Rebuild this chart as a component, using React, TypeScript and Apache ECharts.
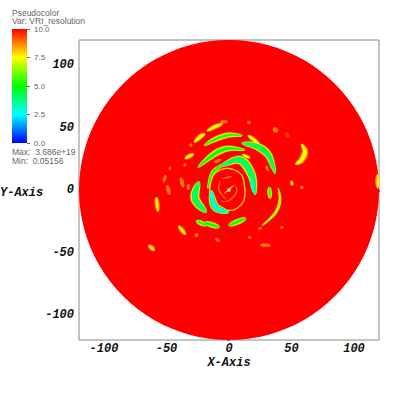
import React, { useEffect, useRef } from "react";
import * as echarts from "echarts";

const domainRadius = [120];
const majorTicks = [-100, -50, 0, 50, 100];
const colorbarTicks = [0, 2.5, 5, 7.5, 10];
const contourLevels = [9.4, 8.75, 7.5, 6.25, 5, 3.75, 2.5, 1.25];
const contourColors = ["#ff4000", "#ff8000", "#ffff00", "#80ff00", "#00ff00", "#00ff80", "#00ffff", "#0080ff"];
const colorbarStops = ["#ff0000", "#ffff00", "#00ff00", "#00ffff", "#0000ff"];

const strokePoints: number[][][] = [
  [[-18, 47], [-11, 50.7], [-5, 53]],
  [[-7, 54.7], [-1, 54.4]],
  [[-28, 38], [-23, 42.7], [-19, 45]],
  [[-20, 35.5], [-11.2, 40.5], [0, 44], [11, 43.5]],
  [[-35.5, 25], [-28, 29]],
  [[10, 37.5], [22, 35], [31.5, 28], [37, 13]],
  [[15, 44], [24.5, 36.5]],
  [[-25, 18], [-16.5, 25.3], [-8.5, 30.7], [0.5, 33.3], [13, 32]],
  [[-7, 19], [8.8, 24], [18.1, 12], [21, -4]],
  [[17, 10], [20.5, -3]],
  [[-24, 7], [-27.2, -6.7], [-18, -18]],
  [[-14.5, 0], [-11.2, -13.3], [0, -18]],
  [[-17, 1], [-12.5, 14.7], [-1, 22]],
  [[12.8, 0], [10.1, 12], [-0.5, 17.3], [-11.2, 13.3], [-15.2, 2.7], [-13.9, -8], [-7.2, -14.7], [3.5, -16], [11.5, -9.3], [12.8, 0]],
  [[-26.5, -24.5], [-18, -28.5]],
  [[-20, -26], [-7.5, -29.8]],
  [[-0.5, -28.5], [14, -22.5]],
  [[39.2, 2], [40.8, -8], [36.8, -18.7], [26, -29]],
  [[32.2, 2.5], [32.9, -7]],
  [[58, 37], [60.8, 30.7], [58, 24], [53, 20.5]],
  [[38.6, 46], [35.8, 50]],
  [[16.6, 52.6], [15.4, 55.4]],
  [[45.5, 46], [48, 42]],
  [[50.8, 3.5], [49.8, 7.5]],
  [[57, 1.5], [59.5, 2.6]],
  [[-58.2, -5.5], [-56.8, -17.5]],
  [[-40.5, -28.5], [-34.5, -36]],
  [[-27, -34.8], [-25, -37.3]],
  [[-10.8, -39], [-7.6, -41]],
  [[-64.5, -44], [-59.5, -48.5]],
  [[25, -44], [33.5, -44.3]],
  [[15, -37.6], [18, -38.2]],
  [[40.6, -30.5], [43.6, -29.5]],
  [[23.3, -31], [26.3, -30.4]],
  [[-50.6, 12], [-52.4, 6]],
  [[-49.5, 4], [-47.5, -4]],
  [[-38.6, 10], [-36.5, 2]],
  [[-32.6, 5], [-32.4, 0]],
  [[-46.6, 18.6], [-48, 16]],
  [[-34.5, 21.3], [-36, 18.8]],
  [[-12, 22.3], [-6, 24.4]],
  [[29.7, 19.5], [31.3, 15]],
  [[-29.6, 37], [-31.2, 35]],
  [[10.5, 28.4], [17, 25.6]],
  [[119, 13], [119, 1]],
  [[-7.2, 7.5], [-8, 0], [-2.5, -7.5]],
  [[4.6, 5], [6.1, -1.3], [0.8, -8], [-6.5, -9.5]],
  [[3, 11], [-5.5, 9]],
  [[-4, -3], [4, 4]],
];
const strokeWidths = [
  4.2, 3, 4.6, 5, 4, 7, 4, 6, 8, 3.4, 8, 7, 3.4, 1.1, 4.4, 5, 5, 2.8, 4, 6,
  4.4, 3.2, 3.2, 3.2, 3, 4.4, 4.4, 3.2, 3.2, 4.4, 3, 2.6, 2.6, 2.6, 3, 3.4, 3.4, 3.2, 2.6, 2.6, 2.6, 2.6, 2.6, 3, 4.4,
  1.1, 1.2, 1.1, 1.4,
];
const strokeMinima = [
  7, 8, 7, 5, 7, 3.5, 7, 4.5, 3, 1.5, 3, 1.5, 4.5, 7, 5, 4.5, 4.5, 5.5, 5, 7,
  8, 8.5, 9, 7.5, 8, 7.5, 7.5, 8, 8.5, 7.5, 8, 8.7, 8.7, 8.7, 8.5, 8.3, 8, 8, 8.7, 8.7, 8, 8, 8.5, 7, 7.5,
  8.2, 8, 8.4, 7.5,
];

const grey = "#666666";
const tickFont = { color: "#111", fontFamily: "Liberation Mono", fontWeight: "bold", fontStyle: "italic", fontSize: 12 } as const;
const legendFont = { fill: "#666", fontFamily: "Liberation Sans", fontSize: 8.5 } as const;

const baseAxis = { min: -120, max: 120, interval: 10, axisLine: { show: false }, splitLine: { show: false }, axisLabel: { show: false }, axisTick: { show: true, length: 2, lineStyle: { color: grey } } };
const majorAxis = {
  min: -120, max: 120, axisLine: { show: false }, splitLine: { show: false },
  axisTick: { show: true, length: 4, customValues: majorTicks, lineStyle: { color: "#222" } },
};

// Catmull-Rom through the screen points, so a band can be outlined as a lens.
function centreline(pts: number[][]) {
  const out: number[][] = [];
  const n = pts.length;
  const steps = 10;
  for (let i = 0; i < n - 1; i++) {
    const p0 = pts[Math.max(i - 1, 0)], p1 = pts[i], p2 = pts[i + 1], p3 = pts[Math.min(i + 2, n - 1)];
    for (let k = 0; k < steps; k++) {
      const t = k / steps, t2 = t * t, t3 = t2 * t;
      out.push([0, 1].map((d) => 0.5 * (2 * p1[d] + (p2[d] - p0[d]) * t + (2 * p0[d] - 5 * p1[d] + 4 * p2[d] - p3[d]) * t2 + (3 * p1[d] - p0[d] - 3 * p2[d] + p3[d]) * t3)));
    }
  }
  out.push(pts[n - 1]);
  return out;
}

function lens(line: number[][], halfWidth: number) {
  const left: number[][] = [];
  const right: number[][] = [];
  const last = line.length - 1;
  line.forEach((p, i) => {
    const a = line[Math.max(i - 1, 0)], b = line[Math.min(i + 1, last)];
    const dx = b[0] - a[0], dy = b[1] - a[1];
    const len = Math.hypot(dx, dy) || 1;
    const h = halfWidth * Math.pow(Math.sin((Math.PI * i) / last), 0.6);
    left.push([p[0] - (dy / len) * h, p[1] + (dx / len) * h]);
    right.push([p[0] + (dy / len) * h, p[1] - (dx / len) * h]);
  });
  return left.concat(right.reverse());
}

function renderLevel(params: any, api: any) {
  const li = params.dataIndex;
  const level = contourLevels[li];
  const unit = api.size([1, 0])[0];
  const children: any[] = [];
  strokePoints.forEach((pts, i) => {
    const lo = strokeMinima[i];
    if (lo > level) return;
    const width = strokeWidths[i] * Math.sqrt((level - lo + 0.4) / (9.4 - lo + 0.4)) * unit;
    const a = pts[0], z = pts[pts.length - 1];
    const closed = a[0] === z[0] && a[1] === z[1];
    if (closed) {
      children.push({
        type: "polyline",
        shape: { points: centreline(pts.map((p) => api.coord(p))) },
        style: { fill: "none", stroke: contourColors[li], lineWidth: width },
      });
    } else {
      children.push({
        type: "polygon",
        shape: { points: lens(centreline(pts.map((p) => api.coord(p))), width / 2) },
        style: { fill: contourColors[li] },
      });
    }
  });
  return { type: "group", children };
}

export default function App() {
  const ref = useRef<HTMLDivElement>(null);
  useEffect(() => {
    const chart = echarts.init(ref.current!, undefined, { renderer: "svg" });
    chart.setOption({
      animation: false,
      backgroundColor: "#fff",
      grid: [
        { left: 79, top: 40, width: 300, height: 300, show: true, borderColor: "#888", borderWidth: 1, backgroundColor: "#fff" },
        { left: 12, top: 29, width: 15, height: 114 },
      ],
      xAxis: [
        { ...baseAxis, type: "value", gridIndex: 0, position: "bottom" },
        {
          ...majorAxis, type: "value", gridIndex: 0, position: "bottom",
          axisLabel: { show: true, customValues: majorTicks, margin: 3, ...tickFont },
          name: "X-Axis", nameLocation: "middle", nameGap: 17, nameMoveOverlap: false, nameTextStyle: tickFont,
        },
        { type: "category", gridIndex: 1, data: ["c"], show: false },
      ],
      yAxis: [
        { ...baseAxis, type: "value", gridIndex: 0, position: "left" },
        {
          ...majorAxis, type: "value", gridIndex: 0, position: "left",
          axisLabel: { show: true, customValues: majorTicks, margin: 5, ...tickFont },
        },
        {
          type: "value", gridIndex: 1, position: "right", min: 0, max: 10, interval: 2.5,
          axisLine: { show: false }, splitLine: { show: false },
          axisTick: { show: true, length: 3, lineStyle: { color: "#666" } },
          axisLabel: { margin: 7, color: "#666", fontFamily: "Liberation Sans", fontSize: 8, formatter: (v: number) => v.toFixed(1) },
        },
      ],
      graphic: [
        { type: "text", left: 12, top: 8, style: { text: "Pseudocolor", ...legendFont } },
        { type: "text", left: 12, top: 16.5, style: { text: "Var: VRI_resolution", ...legendFont } },
        { type: "text", left: 12, top: 147, style: { text: "Max:  3.686e+19", ...legendFont } },
        { type: "text", left: 12, top: 156, style: { text: "Min:  0.05156", ...legendFont } },
        { type: "text", left: 0, top: 187, style: { text: "Y-Axis", fill: "#111", font: "italic bold 12px 'Liberation Mono'" } },
      ],
      series: [
        {
          type: "custom", xAxisIndex: 0, yAxisIndex: 0, clip: true, data: domainRadius, z: 1,
          renderItem: (_p: any, api: any) => {
            const c = api.coord([0, 0]);
            return { type: "circle", shape: { cx: c[0], cy: c[1], r: api.size([domainRadius[0], 0])[0] }, style: { fill: colorbarStops[0] } };
          },
        },
        { type: "custom", xAxisIndex: 0, yAxisIndex: 0, clip: true, data: contourLevels, z: 2, renderItem: renderLevel },
        { type: "scatter", xAxisIndex: 0, yAxisIndex: 0, data: [[0, 0]], symbolSize: 3, symbol: "rect", itemStyle: { color: "#fff" }, z: 3 },
        {
          type: "bar", xAxisIndex: 2, yAxisIndex: 2, data: [colorbarTicks[4]], barWidth: "100%",
          itemStyle: {
            color: new echarts.graphic.LinearGradient(0, 0, 0, 1, colorbarStops.map((c, i) => ({ offset: i / 4, color: c }))),
          },
        },
      ],
    });
    return () => chart.dispose();
  }, []);
  return <div ref={ref} style={{ position: "absolute", left: 0, top: 0, width: 399, height: 399 }} />;
}
